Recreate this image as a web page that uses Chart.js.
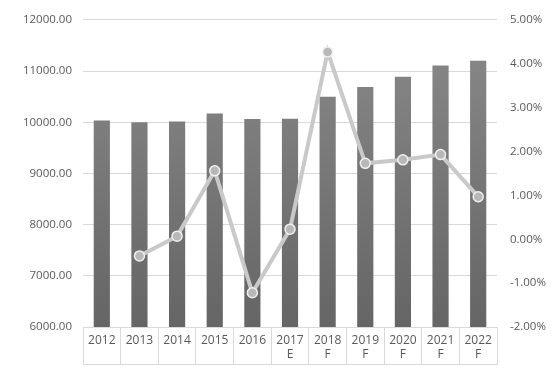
<!DOCTYPE html>
<html>
<head>
<meta charset="utf-8">
<script src="https://cdn.jsdelivr.net/npm/chart.js@4"></script>
<style>
  html, body { margin: 0; padding: 0; background: #fff; }
  #wrap { width: 560px; height: 373px; }
</style>
</head>
<body>
<div id="wrap"><canvas id="chart" width="560" height="373"></canvas></div>
<script>
// categories (E = estimate, F = forecast)
const years = [['2012'], ['2013'], ['2014'], ['2015'], ['2016'], ['2017', 'E'], ['2018', 'F'], ['2019', 'F'], ['2020', 'F'], ['2021', 'F'], ['2022', 'F']];
// market size (left axis)
const sizeValues = [10035, 10000, 10015, 10170, 10065, 10070, 10500, 10690, 10890, 11110, 11200];
// growth rate in % (right axis), none for the first year
const growthValues = [null, -0.38, 0.07, 1.56, -1.22, 0.23, 4.27, 1.73, 1.81, 1.93, 0.97];

const textColor = '#595959';
const gridColor = '#d9d9d9';
const font = { family: 'Open Sans', size: 11.5 };

// bottom line of the category "table" under the axis
const tableLine = {
    id: 'tableLine',
    afterDraw(chart) {
        const x = chart.scales.x;
        const ctx = chart.ctx;
        ctx.save();
        ctx.strokeStyle = gridColor;
        ctx.lineWidth = 1;
        ctx.beginPath();
        ctx.moveTo(x.left, chart.chartArea.bottom + 37.5);
        ctx.lineTo(x.right, chart.chartArea.bottom + 37.5);
        ctx.stroke();
        ctx.restore();
    }
};

function barGradient(context) {
    const area = context.chart.chartArea;
    if (!area) return '#777';
    const g = context.chart.ctx.createLinearGradient(0, area.top, 0, area.bottom);
    g.addColorStop(0, '#8a8a8a');
    g.addColorStop(1, '#656565');
    return g;
}

new Chart(document.getElementById('chart'), {
    data: {
        labels: years,
        datasets: [
            {
                type: 'line',
                data: growthValues,
                yAxisID: 'y1',
                borderColor: '#c9c9c9',
                borderWidth: 4,
                pointRadius: 5,
                pointBackgroundColor: '#b8b8b8',
                pointBorderColor: '#f0f0f0',
                pointBorderWidth: 1.5,
                tension: 0,
                order: 0
            },
            {
                type: 'bar',
                data: sizeValues,
                yAxisID: 'y',
                backgroundColor: barGradient,
                barPercentage: 0.43,
                categoryPercentage: 1,
                order: 1
            }
        ]
    },
    options: {
        responsive: false,
        animation: false,
        layout: { padding: { top: 13, right: 0, left: 0, bottom: 0 } },
        plugins: {
            legend: { display: false },
            tooltip: { enabled: false }
        },
        scales: {
            x: {
                grid: { offset: true, drawOnChartArea: false, tickLength: 38, color: gridColor },
                border: { color: gridColor },
                ticks: { color: textColor, font: { family: 'Open Sans', size: 12 }, padding: -32, maxRotation: 0 },
                afterFit(scale) { scale.height = 46; }
            },
            y: {
                position: 'left',
                min: 6000,
                max: 12000,
                ticks: {
                    stepSize: 1000,
                    color: textColor,
                    font: font,
                    padding: 11,
                    callback: v => v.toFixed(2)
                },
                grid: { color: gridColor, drawTicks: false },
                border: { display: false },
                afterFit(scale) { scale.width = 83; }
            },
            y1: {
                position: 'right',
                min: -2,
                max: 5,
                ticks: {
                    stepSize: 1,
                    color: textColor,
                    font: font,
                    padding: 13,
                    callback: v => v.toFixed(2) + '%'
                },
                grid: { drawOnChartArea: false, drawTicks: false },
                border: { display: false },
                afterFit(scale) { scale.width = 63; }
            }
        }
    },
    plugins: [tableLine]
});
</script>
</body>
</html>
